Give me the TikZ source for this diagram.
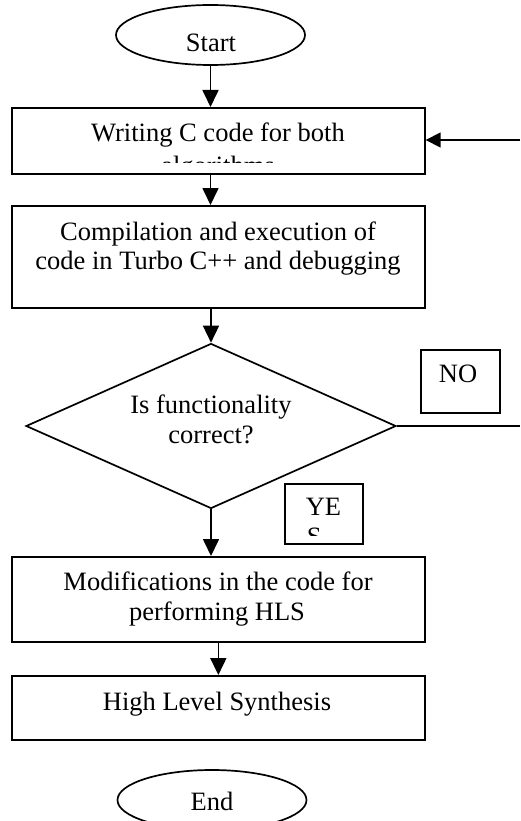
\documentclass[tikz,border=0pt]{standalone}
\usepackage{fontspec}
\setmainfont{Liberation Serif}
\usetikzlibrary{shapes.geometric,arrows.meta}
\begin{document}
\begin{tikzpicture}[x=1pt,y=-1pt,
  line width=1.7pt,
  shapebox/.style={draw,rectangle,inner sep=0pt,anchor=north west},
  oval/.style={draw,ellipse,inner sep=0pt,minimum width=189pt,minimum height=60pt},
  txt/.style={inner sep=0pt,anchor=base,font=\fontsize{26.5}{29}\selectfont},
  arr/.style={-{Triangle[length=17pt,width=16pt]}},
  sidearr/.style={-{Triangle[length=15pt,width=15pt]}}]
\useasboundingbox (0,0) rectangle (520,821);
\clip (0,0) rectangle (520,821);

% terminals
\node[oval] (start) at (210.5,35) {};
\node[oval] (end) at (212,800) {};

% process boxes
\node[shapebox,minimum width=413pt,minimum height=66pt]  (b1) at (11,107) {};
\node[shapebox,minimum width=413pt,minimum height=102pt] (b2) at (11,205) {};
\node[shapebox,minimum width=413pt,minimum height=85pt]  (b3) at (11,556) {};
\node[shapebox,minimum width=413pt,minimum height=64pt]  (b4) at (11,675) {};

% decision
\node[draw,diamond,inner sep=0pt,minimum width=370pt,minimum height=165pt] (dec) at (211,426) {};

% branch labels
\node[shapebox,minimum width=79pt,minimum height=63pt] (nobox) at (420,349) {};
\node[shapebox,minimum width=78pt,minimum height=60pt] (yesbox) at (284,483) {};

% texts
\node[txt] at (211,52) {Start};
\node[txt] at (218,142) {Writing C code for both};
\begin{scope}
  \clip (11,107) rectangle (424,163);
  \node[txt] at (218,175) {algorithms};
\end{scope}
\node[txt] at (218,240) {Compilation and execution of};
\node[txt] at (218,269) {code in Turbo C++ and debugging};
\node[txt] at (211,413) {Is functionality};
\node[txt] at (211,443) {correct?};
\node[txt] at (458,382) {NO};
\begin{scope}
  \clip (284,483) rectangle (362,535);
  \node[txt,anchor=base west] at (305,515) {YE};
  \node[txt,anchor=base west] at (306,545) {S};
\end{scope}
\node[txt] at (218,590) {Modifications in the code for};
\node[txt] at (217,620) {performing HLS};
\node[txt] at (217,710) {High Level Synthesis};
\node[txt] at (212,810) {End};

% connectors
\draw[arr] (start.south) -- (start.south |- b1.north);
\draw[arr] (b1.south -| start.south) -- (b2.north -| start.south);
\draw[arr] (b2.south -| dec.north) -- (dec.north);
\draw[arr] (dec.south) -- (dec.south |- b3.north);
\draw[arr] (b3.south) -- (b4.north);
\coordinate (fb) at (520,140);
\draw[sidearr] (fb) -- (fb -| b1.east);
\coordinate (nx) at (520,426);
\draw (dec.east) -- (nx);
\end{tikzpicture}
\end{document}
